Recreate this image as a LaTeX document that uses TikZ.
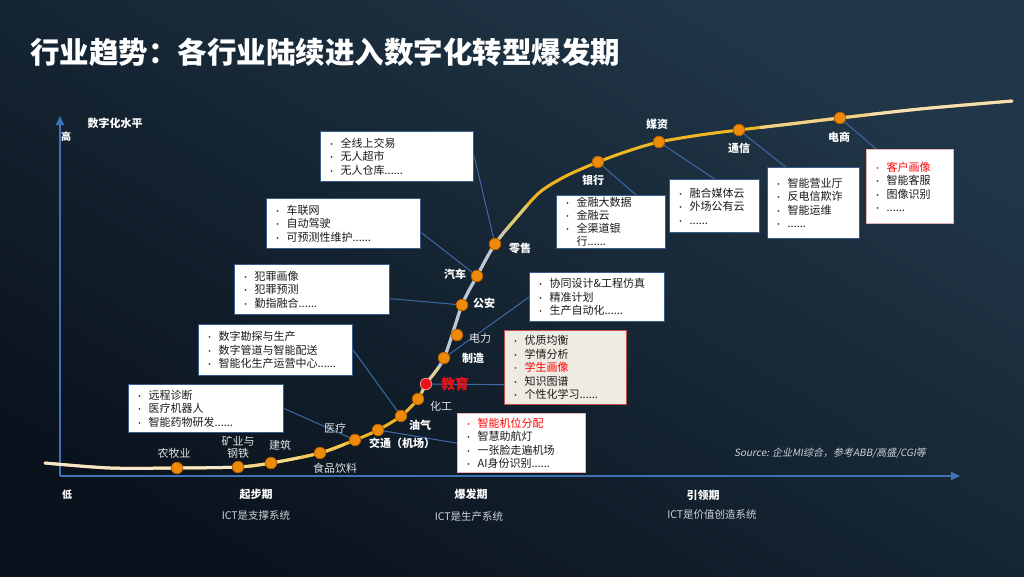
\documentclass[tikz,border=0pt]{standalone}
\usepackage{fontspec}
\setmainfont{Noto Sans CJK SC}
\newfontfamily\srcfont[FakeSlant=0.2]{Noto Sans CJK SC}
\usetikzlibrary{positioning,arrows.meta}
\definecolor{bgtr}{HTML}{213749}
\definecolor{bgbl}{HTML}{0A131D}
\definecolor{axisblue}{HTML}{3F72B5}
\definecolor{linkblue}{HTML}{3D6AA5}
\definecolor{boxblue}{HTML}{385D8A}
\definecolor{dotorange}{HTML}{EE8A0A}
\definecolor{dotedge}{HTML}{B86000}
\definecolor{edured}{HTML}{E8141C}
\definecolor{eduedge}{HTML}{C0504D}
\definecolor{edubeige}{HTML}{EEEBE2}
\definecolor{pinkedge}{HTML}{E6B4B4}
\definecolor{labelgrey}{HTML}{E2E4E6}
\definecolor{phasegrey}{HTML}{CDD3D9}
\definecolor{trendgold}{HTML}{F0B722}
\definecolor{trendcream}{HTML}{F6E6CC}
\definecolor{trendpale}{HTML}{F5D98E}
\definecolor{trendwarm}{HTML}{F3C856}
\definecolor{trendtan}{HTML}{D8D0A0}
\definecolor{trendsky}{HTML}{B7C9E2}
\definecolor{trendash}{HTML}{CBC6AE}
\definecolor{trendsand}{HTML}{E0CC78}
\definecolor{trendpeach}{HTML}{F2D28A}
\definecolor{trendivory}{HTML}{F5DFB5}

\newcommand{\bul}[1]{\makebox[13pt][l]{\footnotesize\textbullet}#1}
\newcommand{\redbul}[1]{\textcolor{red}{\bul{#1}}}
\newcommand{\trendline}{plot[smooth, tension=0.5] coordinates {(45,463) (110,468) (177,468) (238,467) (271,463) (320,453) (355,440) (378,430) (401,416) (418,399) (426,384) (444,358) (462,305) (477,276) (495,244) (518,216) (540,192) (566,176) (598,162) (628,151) (659,142) (700,135) (739,130) (790,124) (840,118) (920,109) (1012,101)}}

\begin{document}
\begin{tikzpicture}[x=1pt, y=-1pt, every node/.style={font=\fontsize{11}{13.5}\selectfont}]
  \tikzset{
    usecase/.style={draw=boxblue, line width=1.3pt, fill=white, text=black!90, align=left, anchor=north west, inner xsep=7pt, inner ysep=3pt},
    dot/.style={circle, draw=dotedge, fill=dotorange, line width=0.8pt, minimum size=11.5pt, inner sep=0pt},
    link/.style={draw=linkblue, line width=1pt},
    trend/.style={line width=3pt, line cap=round},
    tag/.style={text=labelgrey, inner sep=1pt},
    tagbold/.style={tag, text=white, font=\bfseries\fontsize{11}{13}\selectfont},
    phase/.style={text=white, font=\bfseries\fontsize{11}{13}\selectfont},
    phasenote/.style={text=phasegrey, font=\fontsize{10.5}{12}\selectfont}
  }
  \useasboundingbox (0,0) rectangle (1024,576);
  \shade[top color=bgtr, bottom color=bgbl, shading angle=-30] (0,0) rectangle (1024,576);

  % title
  \node[anchor=west, text=white, font=\bfseries\fontsize{29.5}{32}\selectfont, inner sep=0pt] (title) at (30,52) {行业趋势：各行业陆续进入数字化转型爆发期};

  % axes
  \coordinate (origin) at (60,476);
  \coordinate (ytop) at (60,116);
  \coordinate (xend) at (960,476);
  \draw[axisblue, line width=2pt, -{Triangle[length=9pt, width=8pt]}] (origin) -- (ytop);
  \draw[axisblue, line width=2pt, -{Triangle[length=9pt, width=8pt]}] (origin) -- (xend);
  \node[phase] (ylabel) at (115,123) {数字化水平};
  \node[phase, font=\bfseries\fontsize{10}{12}\selectfont] (high) at (66,137) {高};
  \node[phase, font=\bfseries\fontsize{10}{12}\selectfont] (low) at (67,495) {低};

  % phases
  \node[phase] (start) at (256,494) {起步期};
  \node[phasenote] (startnote) at (256,515) {ICT是支撑系统};
  \node[phase] (burst) at (471,494) {爆发期};
  \node[phasenote] (burstnote) at (469,517) {ICT是生产系统};
  \node[phase] (lead) at (703,495) {引领期};
  \node[phasenote] (leadnote) at (712,515) {ICT是价值创造系统};
  \node[text=phasegrey, font=\srcfont\fontsize{10}{12}\selectfont] (source) at (830,453) {Source: 企业MI综合，参考ABB/高盛/CGI等};

  % industry dots
  \coordinate (nong) at (177,468);
  \coordinate (kuang) at (238,467);
  \coordinate (jian) at (271,463);
  \coordinate (shipin) at (320,453);
  \coordinate (yiliao) at (355,440);
  \coordinate (jiaotong) at (378,430);
  \coordinate (youqi) at (401,416);
  \coordinate (huagong) at (418,399);
  \coordinate (jiaoyu) at (426,384);
  \coordinate (zhizao) at (444,358);
  \coordinate (dianli) at (457,335);
  \coordinate (gongan) at (462,305);
  \coordinate (qiche) at (477,276);
  \coordinate (lingshou) at (495,244);
  \coordinate (yinhang) at (598,162);
  \coordinate (meizi) at (659,142);
  \coordinate (tongxin) at (739,130);
  \coordinate (dianshang) at (840,118);

  % use case boxes
  \node[usecase, text width=139pt, minimum height=50pt] (retailbox) at (320,131) {\bul{全线上交易}\\\bul{无人超市}\\\bul{无人仓库......}};
  \node[usecase, text width=140pt, minimum height=50pt] (carbox) at (266,198) {\bul{车联网}\\\bul{自动驾驶}\\\bul{可预测性维护......}};
  \node[usecase, text width=141pt, minimum height=50pt] (policebox) at (234,264) {\bul{犯罪画像}\\\bul{犯罪预测}\\\bul{勤指融合......}};
  \node[usecase, text width=140pt, minimum height=51pt] (oilbox) at (198,324) {\bul{数字勘探与生产}\\\bul{数字管道与智能配送}\\\bul{智能化生产运营中心......}};
  \node[usecase, text width=141pt, minimum height=48pt] (medbox) at (128,384) {\bul{远程诊断}\\\bul{医疗机器人}\\\bul{智能药物研发......}};
  \node[usecase, draw=pinkedge, text width=114pt, minimum height=59pt] (airbox) at (457,413) {\redbul{智能机位分配}\\\bul{智慧助航灯}\\\bul{一张脸走遍机场}\\\bul{AI身份识别......}};
  \node[usecase, draw=eduedge, fill=edubeige, text width=108pt, minimum height=74pt] (edubox) at (504,330) {\bul{优质均衡}\\\bul{学情分析}\\\redbul{学生画像}\\\bul{知识图谱}\\\bul{个性化学习......}};
  \node[usecase, text width=121pt, minimum height=49pt] (makebox) at (529,272) {\bul{协同设计\&工程仿真}\\\bul{精准计划}\\\bul{生产自动化......}};
  \node[usecase, text width=95pt, minimum height=53pt, inner ysep=0pt, font=\fontsize{11}{13}\selectfont] (bankbox) at (556,195) {\bul{金融大数据}\\\bul{金融云}\\\bul{全渠道银}\\\hspace*{13pt}行......};
  \node[usecase, text width=76pt, minimum height=53pt] (mediabox) at (669,179) {\bul{融合媒体云}\\\bul{外场公有云}\\\bul{......}};
  \node[usecase, text width=78pt, minimum height=71pt] (telbox) at (767,167) {\bul{智能营业厅}\\\bul{反电信欺诈}\\\bul{智能运维}\\\bul{......}};
  \node[usecase, draw=pinkedge, text width=73pt, minimum height=74pt] (shopbox) at (866,149) {\redbul{客户画像}\\\bul{智能客服}\\\bul{图像识别}\\\bul{......}};

  % connectors
  \draw[link] (retailbox.east) -- (lingshou);
  \draw[link] ([yshift=-9pt]carbox.east) -- (qiche);
  \draw[link] ([yshift=-9pt]policebox.east) -- (gongan);
  \draw[link] (oilbox.east) -- (youqi);
  \draw[link] (medbox.east) -- (yiliao);
  \draw[link] (jiaotong) -- (airbox.west);
  \draw[link] (jiaoyu) -- ([yshift=-17pt]edubox.west);
  \draw[link] (zhizao) -- (makebox.west);
  \draw[link] (yinhang) -- ([xshift=25pt]bankbox.north);
  \draw[link] (meizi) -- (mediabox.north);
  \draw[link] (tongxin) -- ([xshift=-28pt]telbox.north);
  \draw[link] (dianshang) -- ([xshift=-34pt]shopbox.north);

  % trend curve, coloured by bands
  \draw[trend, trendgold] \trendline;
  \begin{scope}
    \clip (0,0) rectangle (235,576);
    \draw[trend, trendcream] \trendline;
  \end{scope}
  \begin{scope}
    \clip (235,400) rectangle (300,576);
    \draw[trend, trendpale] \trendline;
  \end{scope}
  \begin{scope}
    \clip (300,400) rectangle (345,576);
    \draw[trend, trendwarm] \trendline;
  \end{scope}
  \begin{scope}
    \clip (400,366) rectangle (470,392);
    \draw[trend, trendtan] \trendline;
  \end{scope}
  \begin{scope}
    \clip (420,250) rectangle (500,366);
    \draw[trend, trendsky] \trendline;
  \end{scope}
  \begin{scope}
    \clip (460,228) rectangle (530,250);
    \draw[trend, trendash] \trendline;
  \end{scope}
  \begin{scope}
    \clip (480,205) rectangle (540,228);
    \draw[trend, trendsand] \trendline;
  \end{scope}
  \begin{scope}
    \clip (760,0) rectangle (870,200);
    \draw[trend, trendpeach] \trendline;
  \end{scope}
  \begin{scope}
    \clip (870,0) rectangle (1024,200);
    \draw[trend, trendivory] \trendline;
  \end{scope}

  % dots on the curve
  \foreach \p in {nong, kuang, jian, shipin, yiliao, jiaotong, youqi, huagong, zhizao, dianli, gongan, qiche, lingshou, yinhang, meizi, tongxin, dianshang}
    \node[dot] at (\p) {};
  \node[dot, draw=red!45, fill=edured] (edudot) at (jiaoyu) {};

  % industry labels
  \node[tag] (nonglbl) at (174,453) {农牧业};
  \node[tag, align=center, font=\fontsize{11}{12}\selectfont] (kuanglbl) at (238,447) {矿业与\\钢铁};
  \node[tag] (jianlbl) at (280,445) {建筑};
  \node[tag] (shipinlbl) at (335,468) {食品饮料};
  \node[tag] (yiliaolbl) at (335,428) {医疗};
  \node[tagbold] (jiaotonglbl) at (402,443) {交通（机场）};
  \node[tagbold] (youqilbl) at (420,425) {油气};
  \node[tag] (huagonglbl) at (441,406) {化工};
  \node[text=edured, font=\bfseries\fontsize{14}{16}\selectfont, inner sep=1pt] (jiaoyulbl) at (455,384) {教育};
  \node[tagbold] (zhizaolbl) at (473,358) {制造};
  \node[tag] (dianlilbl) at (480,338) {电力};
  \node[tagbold] (gonganlbl) at (484,303) {公安};
  \node[tagbold] (qichelbl) at (455,274) {汽车};
  \node[tagbold] (lingshoulbl) at (520,248) {零售};
  \node[tagbold] (yinhanglbl) at (593,180) {银行};
  \node[tagbold] (meizilbl) at (657,124) {媒资};
  \node[tagbold] (tongxinlbl) at (739,148) {通信};
  \node[tagbold] (dianshanglbl) at (839,137) {电商};
\end{tikzpicture}
\end{document}
